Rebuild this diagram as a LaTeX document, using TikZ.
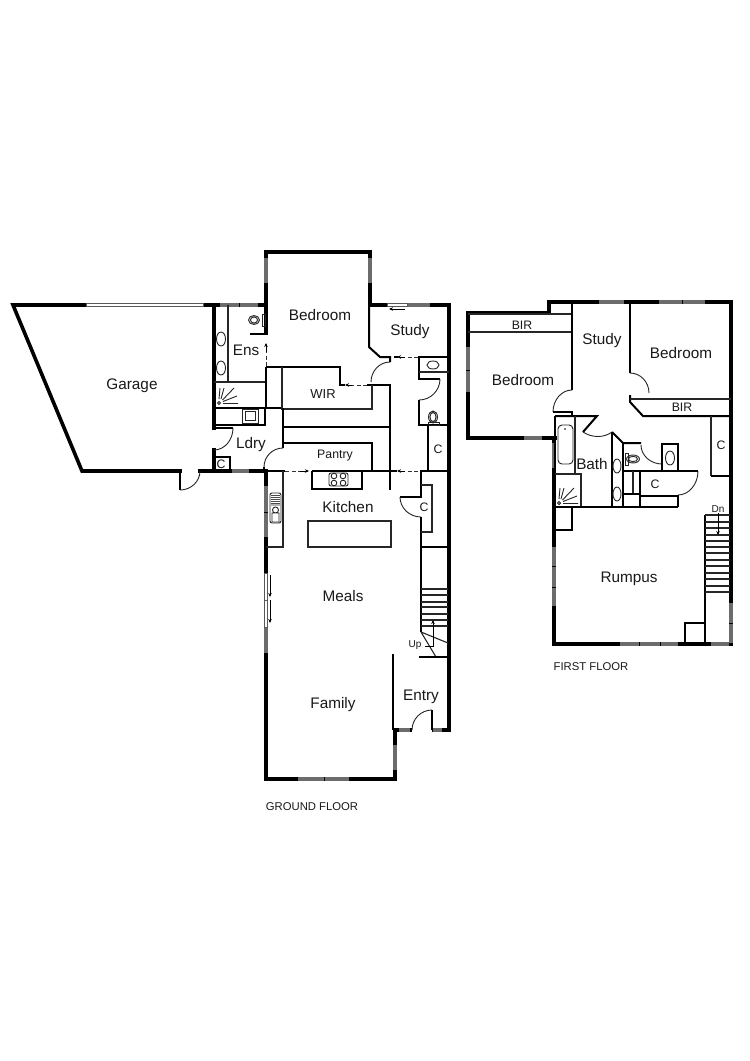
\documentclass[tikz,border=0pt]{standalone}
\usepackage{fontspec}
\setmainfont{Liberation Sans}
\usetikzlibrary{calc,arrows.meta}
\definecolor{wingray}{HTML}{6c6c6c}
\tikzset{
  wall/.style={line width=3.6pt,line cap=rect,line join=miter,black},
  midw/.style={line width=2pt,black},
  thin/.style={line width=1.1pt,black!85},
  hair/.style={line width=.9pt,black!85},
  win/.style={line width=3.6pt,wingray},
  slide/.style={line width=.9pt,black!80,dash pattern=on 4pt off 2.5pt},
  arrowl/.style={line width=.9pt,black,-{Stealth[length=4pt,width=3.5pt]}},
  lbl/.style={font=\fontsize{15.3}{17}\selectfont,inner sep=0pt,black!90},
  sml/.style={font=\fontsize{12.3}{14}\selectfont,inner sep=0pt,black!90},
  tiny/.style={font=\fontsize{10}{12}\selectfont,inner sep=0pt,black!90},
  flr/.style={font=\fontsize{11.3}{13}\selectfont,inner sep=0pt,black!90},
}
\newcommand{\qarc}[3]{\draw[hair] (#1) .. controls ($(#1)!.55!(#2)$) and ($(#3)!.55!(#2)$) .. (#3);}
\newcommand{\showersym}[2]{\begin{scope}[shift={(#1,#2)}]
  \draw[hair] (0,0) circle (1.6);
  \draw[hair] (0,-4)--(1,-15) (2,-4)--(5,-15) (3.5,-3)--(15,-15) (4,-1.5)--(18,-7) (4,.5)--(19,.5);
\end{scope}}
\newcommand{\winmark}[3]{\draw[win] (#1,#3)--(#2,#3);}
\newcommand{\winmarkv}[3]{\draw[win] (#3,#1)--(#3,#2);}
\begin{document}
\begin{tikzpicture}[x=1pt,y=-1pt]
\useasboundingbox[fill=white] (0,0) rectangle (750,1061);

%%% GROUND FLOOR
% garage and outer walls
\draw[wall] (180,471)--(82,471)--(13,305)--(266,305);
\draw[wall] (200,471)--(266,471);
\draw[wall] (214,305)--(214,428) (214,450)--(214,471);
\draw[wall] (266,333)--(266,252)--(370,252)--(370,305)--(449,305)--(449,730)--(395,730)--(395,779)--(266,779)--(266,471);
% garage door and laundry door
\draw[midw] (180,471)--(180,490);
\qarc{180,490}{200,490}{200,471}
\draw[midw] (214,428)--(233,428);
\qarc{233,428}{233,450}{214,450}
% garage window
\draw[line width=3.8pt,black!65] (86,305)--(204,305);
\draw[line width=2pt,white] (87,305)--(203,305);
% en-suite
\winmark{220}{238.5}{305}\winmark{239.5}{258}{305}
\winmarkv{258}{283}{266}\winmarkv{258}{283}{370}
\draw[thin] (228,305)--(228,382) (214,382)--(266,382);
\draw[hair] (221,339) ellipse (4.5 and 7) (221,368) ellipse (4.5 and 7);
\draw[midw] (214,408)--(283,408);
\showersym{219}{403}
\draw[midw] (250,334)--(266,334);
\draw[hair] (254,320) ellipse (5.5 and 4.5) (254,320) ellipse (3.5 and 3);
\draw[hair] (262,314) rectangle (265,326);
\draw[slide] (266,366)--(266,350);
\draw[arrowl] (266,352)--(266,343);
\draw[midw] (266,367)--(266,408);
% WIR
\draw[midw] (266,367)--(340,367)--(340,385)--(345,385);
\draw[slide] (367,385)--(350,385);
\draw[arrowl] (352,385)--(345,385);
\draw[midw] (367,385)--(390,385)--(390,490);
\draw[thin] (282,367)--(282,409)--(372,409)--(372,385);
% study
\draw[midw] (369,305)--(369,347)--(380,357)--(390,357)--(390,362);
\qarc{390,362}{371,362}{371,382}
\draw[midw] (394,357)--(398,357);
\draw[slide] (418,357)--(403,357);
\draw[arrowl] (405,357)--(397,357);
\draw[midw] (418,357)--(449,357);
\draw[line width=3.4pt,black!65] (387,305)--(408,305);
\draw[line width=1.8pt,white] (388,305)--(407,305);
\winmark{408}{430}{305}
\draw[arrowl,line width=.7pt] (405,309)--(389,309);
% powder room
\draw[midw] (419,357)--(419,379)--(440,379);
\qarc{440,379}{440,400}{419,400}
\draw[midw] (419,400)--(419,425)--(449,425);
\draw[thin] (419,372)--(449,372);
\draw[hair] (433,365) ellipse (6 and 4);
\draw[hair] (433,417) ellipse (4.5 and 6) (433,417) ellipse (3 and 4.5);
\draw[hair] (428,422) rectangle (439,425);
\draw[midw] (428,425)--(428,471);
% laundry
\draw[midw] (214,425)--(265,425)--(265,408);
\draw[midw] (283,408)--(283,448);
\draw[midw] (283,427)--(390,427);
\draw[midw] (283,443)--(372,443)--(372,471);
\draw[hair] (242,409) rectangle (258,423) (245,411) rectangle (255,420);
\draw[midw] (214,457)--(230,457)--(230,471);
\qarc{283,448}{264,448}{264,467}
\draw[midw] (264,467)--(264,471);
\winmark{232}{249}{471}
% kitchen line
\draw[midw] (266,471)--(285,471);
\draw[slide] (285,471)--(303,471);
\draw[arrowl] (300,471)--(309,471);
\draw[midw] (312,471)--(397,471);
\draw[slide] (418,471)--(403,471);
\draw[arrowl] (405,471)--(397,471);
\draw[midw] (420,471)--(449,471);
% kitchen fittings
\draw[thin] (283,471)--(283,547)--(266,547);
\draw[midw] (312,471)--(312,489)--(362,489)--(362,471);
\draw[hair,rounded corners=2pt] (329,473) rectangle (348,486);
\foreach \a/\b in {334/476,343/476,334/483,343/483}{\draw[hair] (\a,\b) circle (2.8);}
\draw[thin] (308,521) rectangle (391,547);
\draw[hair,rounded corners=2pt] (270,493) rectangle (281,523);
\draw[hair] (271,505)--(280,505) (275.5,510) circle (3) (272,513) rectangle (279,522);
\foreach \y in {495,497,499,501,503}{\draw[line width=.4pt,black!70] (271,\y)--(280,\y);}
\winmarkv{486}{511.5}{266}\winmarkv{512.5}{537}{266}
% pantry-side cupboard and stairs wall
\draw[midw] (421,471)--(421,497)--(400,497);
\qarc{400,497}{400,517}{421,517}
\draw[midw] (421,517)--(421,632);
\draw[thin] (421,485)--(432,485)--(432,532)--(421,532);
\draw[midw] (421,547)--(449,547);
% stairs
\foreach \y in {589,595,602,607,614,620,626}{\draw[thin] (421,\y)--(448,\y);}
\draw[thin] (421,632)--(436,657) (421,632)--(448,643);
\draw[arrowl,line width=.7pt] (425,646)--(433,646)--(433,620);
\draw[midw] (419,657)--(449,657);
% sliding door meals
\draw[line width=3.6pt,black!65] (266,573)--(266,628);
\draw[line width=1.8pt,white] (266,574)--(266,599.5) (266,600.5)--(266,627);
\winmarkv{628}{653}{266}
\draw[arrowl,line width=.7pt] (270,575)--(270,597);
\draw[arrowl,line width=.7pt] (270,600)--(270,623);
% family, entry
\draw[midw] (393,654)--(393,730);
\winmarkv{745}{770}{395}
\winmark{298}{323.5}{779}\winmark{324.5}{349}{779}
\draw[white,line width=3.8pt] (412,730)--(432,730);
\winmark{399}{410}{730}\winmark{433}{442}{730}
\draw[midw] (432,730)--(432,710);
\qarc{432,710}{412,710}{412,730}

% labels
\node[lbl] (garage) at (132,386) {Garage};
\node[lbl] (bed1) at (320,315) {Bedroom};
\node[lbl] (study1) at (410,332) {Study};
\node[lbl] (ens) at (246,350) {Ens};
\node[sml,font=\fontsize{13}{15}\selectfont] (wir) at (323,394) {WIR};
\node[lbl] (ldry) at (251,445) {Ldry};
\node[sml] (pantry) at (335,456) {Pantry};
\node[lbl] (kitchen) at (348,507) {Kitchen};
\node[lbl] (meals) at (343,596) {Meals};
\node[lbl] (family) at (333,705) {Family};
\node[lbl] (entry) at (421,697) {Entry};
\node[tiny] (up) at (415,645) {Up};
\node[sml] (c1) at (221,464) {C};
\node[sml] (c2) at (438,449) {C};
\node[sml] (c3) at (424,507) {C};
\node[flr] (gf) at (312,807) {GROUND FLOOR};

%%% FIRST FLOOR
\draw[wall] (555,438)--(468,438)--(468,313)--(549,313)--(549,302)--(731,302)--(731,644)--(554,644)--(554,438);
\winmarkv{347}{369.5}{468}\winmarkv{370.5}{392}{468}
\winmark{524}{542}{438}
\winmark{599}{624}{302}
\winmark{659}{681.5}{302}\winmark{682.5}{705}{302}
\winmarkv{547}{565.5}{554}\winmarkv{566.5}{586.5}{554}\winmarkv{587.5}{606}{554}
\winmarkv{443}{468}{554}
\winmark{620}{638.5}{644}\winmark{639.5}{659.5}{644}\winmark{660.5}{678}{644}
\winmarkv{603}{622.5}{731}\winmarkv{623.5}{643}{731}
\winmark{711}{729}{644}
% BIR left
\draw[thin] (468,314)--(572,314) (468,332)--(572,332);
% study walls
\draw[midw] (572,302)--(572,390);
\qarc{572,390}{553,390}{553,412}
\draw[midw] (553,412)--(572,412)--(572,416);
\draw[midw] (630,302)--(630,373);
\qarc{630,373}{649,373}{649,393}
\draw[midw] (630,395)--(630,402)--(643,416)--(731,416);
\draw[thin] (630,399)--(731,399);
% C right
\draw[thin] (711,416)--(711,476);
\draw[midw] (711,476)--(731,476);
% bath
\draw[midw] (555,416)--(597,416)--(583,432);
\draw[hair] (583,432) .. controls (592,438) and (604,438) .. (612,432);
\draw[midw] (612,432)--(623,443)--(641,443);
\draw[midw] (612,432)--(612,507);
\draw[midw] (623,443)--(623,507);
\draw[midw] (555,416)--(555,507);
\draw[thin] (575,416)--(575,473);
\draw[hair,rounded corners=4pt] (558,425) rectangle (573,464);
\fill (565,429) circle (.8);
\draw[thin] (555,474)--(581,474)--(581,507);
\showersym{559}{503}
\draw[midw] (554,507)--(678,507);
\draw[midw] (572,507)--(572,530)--(554,530);
\draw[hair] (617,466) ellipse (4 and 7) (617,494) ellipse (4 and 7);
\qarc{641,445}{641,464}{662,464}
\draw[midw] (662,471)--(662,444)--(678,444)--(678,471);
\draw[hair] (670,458) ellipse (4.5 and 7);
\draw[midw] (623,471)--(698,471);
\qarc{698,471}{698,495}{678,495}
\draw[hair] (633,459) ellipse (6.5 and 4) (633,459) ellipse (4.5 and 2.6);
\draw[hair] (625,453) rectangle (628,465);
\draw[thin] (633,471)--(633,494);
\draw[midw] (623,494)--(640,494);
\draw[midw] (640,471)--(640,507);
\draw[midw] (640,496)--(678,496)--(678,507);
% stairs
\draw[midw] (705,515)--(705,644);
\draw[thin] (705,515)--(730,515);
\foreach \y in {522,528,535,541,547,553,560,566,573,579,586,592}{\draw[thin] (705,\y)--(730,\y);}
\draw[arrowl,line width=.7pt] (718,513)--(718,535);
\draw[midw] (685,644)--(685,623)--(705,623);
% labels
\node[sml] (bir1) at (522,325) {BIR};
\node[sml] (bir2) at (682,407) {BIR};
\node[lbl] (bed2) at (523,380) {Bedroom};
\node[lbl] (bed3) at (681,353) {Bedroom};
\node[lbl] (study2) at (602,341) {Study};
\node[lbl] (bath) at (592,464) {Bath};
\node[lbl] (rump) at (629,579) {Rumpus};
\node[sml] (c4) at (655,484) {C};
\node[sml] (c5) at (721,445) {C};
\node[tiny] (dn) at (718,509) {Dn};
\node[flr] (ff) at (591,667) {FIRST FLOOR};
\end{tikzpicture}
\end{document}
